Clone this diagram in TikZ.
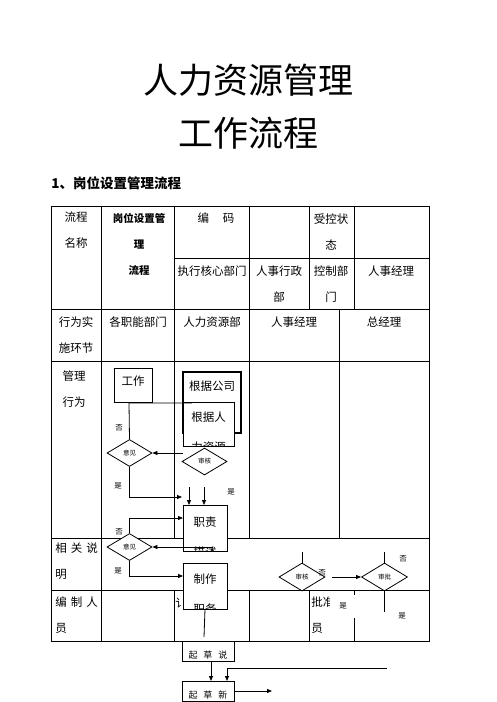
\documentclass[tikz,border=0pt]{standalone}
\usepackage{fontspec}
\setmainfont{Noto Sans CJK SC}
\usetikzlibrary{arrows.meta,calc,positioning,shapes.geometric}
\tikzset{
	flow chart/.style={
		x=1pt, y=-1pt,
		line width=.8pt,
		grid/.style={line width=1pt},
		cell/.style={font=\fontsize{11.5}{26}\selectfont, inner sep=0pt, align=center},
		ar/.style={-{Triangle[length=5pt,width=4pt]}},
		lbl/.style={font=\fontsize{7.5}{8}\selectfont, inner sep=1pt},
		dia/.style={draw, diamond, fill=white, inner sep=0pt,
			minimum width=45pt, minimum height=27pt, font=\fontsize{6.5}{7}\selectfont}
		},
	tb font/.store in=\tbfont,
	tb font=\fontsize{11.5}{30}\selectfont,
	% box whose text runs past its lower edge and is cut there
	tb/.style 2 args={draw, fill=white, inner sep=0pt, outer sep=0pt,
		path picture={\node[anchor=north, inner sep=0pt, minimum width=0pt, minimum height=0pt,
			align=center, font=\tbfont]
			at ([yshift=-#2]path picture bounding box.north) {#1};}},
	tb size/.style 2 args={minimum width=#1, minimum height=#2}
}

\begin{document}
\begin{tikzpicture}[flow chart]
   \useasboundingbox (0,0) rectangle (496,702);
   \node[font=\fontsize{35}{35}\selectfont] (t1) at (248,80) {人力资源管理};
   \node[font=\fontsize{35}{35}\selectfont] (t2) at (248,133) {工作流程};
   \node[font=\bfseries\fontsize{13.5}{14}\selectfont, anchor=west, inner sep=0pt] (hd) at (51,183) {1、岗位设置管理流程};

   % table
   \draw[grid] (51,206) rectangle (429,641);
   \foreach \y in {309,361,538,590} \draw[grid] (51,\y) -- (429,\y);
   \draw[grid] (174,258) -- (429,258);
   \draw[grid] (101.7,206) -- (101.7,641);
   \foreach \x in {174,249} \draw[grid] (\x,206) -- (\x,538) (\x,590) -- (\x,641);
   \foreach \x in {309,354} \draw[grid] (\x,206) -- (\x,309) (\x,590) -- (\x,641);
   \draw[grid] (339,309) -- (339,538);

   \node[cell] (lcmc) at (76,230.5) {流程\\名称};
   \node[cell, font=\bfseries\fontsize{10.5}{26}\selectfont] (gwsz) at (139,244.5) {岗位设置管\\理\\流程};
   \node[cell] (bm) at (216,218) {编\hspace{14pt}码};
   \node[cell] (skzt) at (331,231.5) {受控状\\态};
   \node[cell] (zxbm) at (212,271) {执行核心部门};
   \node[cell] (rsxz) at (279,284) {人事行政\\部};
   \node[cell] (kzbm) at (331,284) {控制部\\门};
   \node[cell] (rsjl) at (391,271) {人事经理};
   \node[cell] (xwss) at (76,335.5) {行为实\\施环节};
   \node[cell] (gzn) at (138,322) {各职能部门};
   \node[cell] (rlzy) at (212,322) {人力资源部};
   \node[cell] (rsjl2) at (294,322) {人事经理};
   \node[cell] (zjl) at (384,322) {总经理};
   \node[cell] (glxw) at (74,389) {管理\\行为};
   \node[cell, anchor=west, align=left] (xgsm) at (55,561) {相\hspace{4pt}关\hspace{4pt}说\\明};
   \node[cell, anchor=west, align=left] (bzry) at (55,615) {编\hspace{4pt}制\hspace{4pt}人\\员};
   \node[cell, anchor=west] (shry) at (175,603) {讠};
   \node[cell, anchor=west, align=left] (pzry) at (311,615) {批准人\\员};

   % flow
   \node[tb={工作\\}{8pt}, tb size={38pt}{34pt}] (gz) at (133,385) {};
   \node[tb={根据公司\\}{9pt}, tb size={58pt}{61pt}, line width=2.5pt] (gs) at (212,402.5) {};
   \node[tb={根据人\\力资源}{9.5pt}, tb size={51pt}{44pt}] (gr) at (208.5,424) {};
   \node[tb={职责\\描述}{12pt}, tb size={44pt}{46pt}] (zz) at (205,528) {};
   \node[tb={制作\\职务}{11pt}, tb size={44pt}{46pt}] (zz2) at (205,586) {};
   \node[tb font=\fontsize{9}{20}\selectfont, tb={起\hspace{6pt}草\hspace{6pt}说}{9.5pt}, tb size={52pt}{20pt}] (qc1) at (208,651) {};
   \node[tb font=\fontsize{9}{20}\selectfont, tb={起\hspace{6pt}草\hspace{6pt}新}{9.5pt}, tb size={52pt}{20pt}, below=20pt of qc1] (qc2) {};

   \node[dia] (yj1) at (129.5,453) {意见};
   \node[dia] (sh1) at (204.5,461.5) {审核};
   \node[dia] (yj2) at (129.5,547) {意见};
   \node[dia, minimum width=46pt, minimum height=28pt] (sh2) at (302,577) {审核};
   \node[dia, minimum width=46pt, minimum height=28pt] (sp) at (384.5,577) {审批};

   \coordinate (w1) at (129,403);
   \coordinate (w2) at (192,403);
   \draw (yj1.north) -- (w1) -- (w2);
   \coordinate (a1) at (183,453);
   \draw[ar] (a1) -- (yj1.east);
   \coordinate (a2) at (182,497);
   \draw[ar] (yj1.south) |- (a2);
   \coordinate (d1) at (189,487);
   \coordinate (d2) at (204,487);
   \draw[ar] (d1) -- (d1 |- zz.north);
   \draw[ar] (d2) -- (d2 |- zz.north);
   \coordinate (a3) at (183,518);
   \draw[ar] (yj2.north) |- (a3);
   \coordinate (a4) at (213,547);
   \draw[ar] (a4) -- (yj2.east);
   \coordinate (a5) at (183,576);
   \draw[ar] (yj2.south) |- (a5);
   \coordinate (e1) at (204,637);
   \draw (zz2.south) -- (e1);
   \draw[ar] ([xshift=3pt]qc1.south) -- ([xshift=3pt]qc2.north);
   \coordinate (f1) at (387,668);
   \draw[ar] (f1) -| ([xshift=19pt]qc2.north);
   \coordinate (g1) at (272,691);
   \draw[ar] (qc2.east) -- (g1);

   \coordinate (h1) at (302,552);
   \draw (h1) -- (sh2.north);
   \coordinate (h2) at (332,577);
   \draw[ar] (h2) -- (sp.west);
   \coordinate (h3) at (384.5,552);
   \draw (h3) -- (sp.north);
   \coordinate (h4) at (384.5,612);
   \draw (sp.south) -- (h4);

   \node[lbl] (n1) at (119,428) {否};
   \node[lbl] (y1) at (118,486) {是};
   \node[lbl] (y2) at (231,492) {是};
   \node[lbl] (n2) at (119,532) {否};
   \node[lbl] (y3) at (118,571) {是};
   \node[lbl] (n3) at (322,573) {否};
   \node[lbl] (n4) at (403,559) {否};
   \node[lbl, fill=white, minimum width=27pt, minimum height=23pt] (y4) at (343,606) {是};
   \node[lbl] (y5) at (402,616) {是};
\end{tikzpicture}
\end{document}
